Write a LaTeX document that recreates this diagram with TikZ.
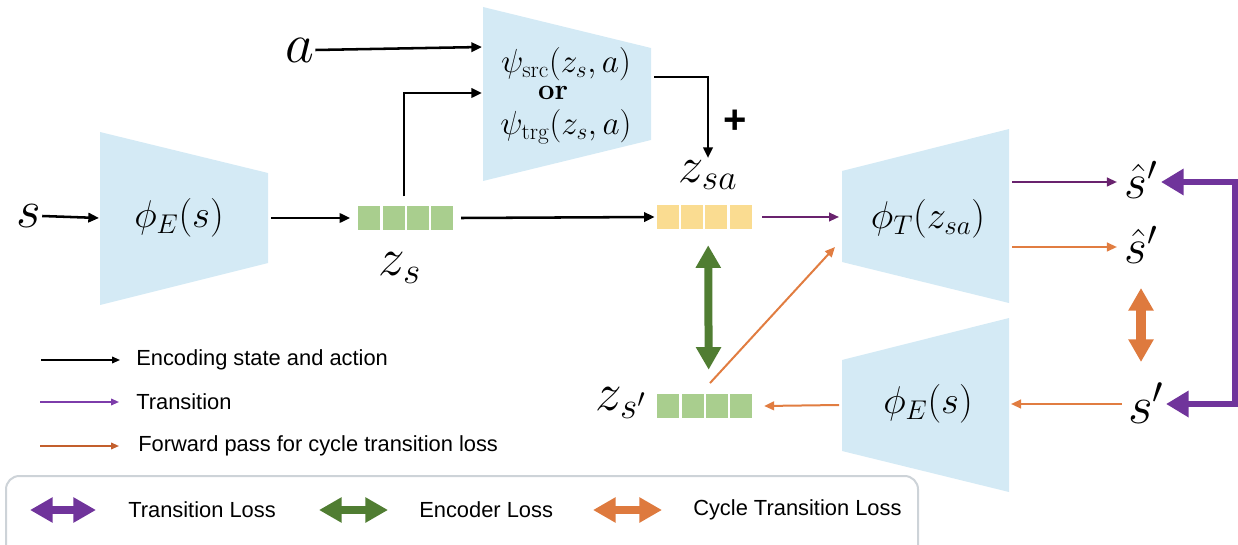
\RequirePackage{fix-cm}
\documentclass[tikz,border=0pt]{standalone}
\usepackage{fontspec}
\newfontfamily\legfont{Liberation Sans}
\usetikzlibrary{arrows.meta,calc}
\newcommand\setfs[1]{\fontsize{#1}{#1}\selectfont}
\definecolor{trapblue}{RGB}{212,234,245}
\definecolor{vgreen}{RGB}{169,206,142}
\definecolor{vyellow}{RGB}{250,220,145}
\definecolor{tpurple}{RGB}{105,35,110}
\definecolor{torange}{RGB}{225,125,65}
\definecolor{lpurple}{RGB}{125,60,170}
\definecolor{lorange}{RGB}{195,95,45}
\definecolor{bpurple}{RGB}{112,52,155}
\definecolor{bgreen}{RGB}{80,125,50}
\definecolor{borange}{RGB}{222,122,62}
\definecolor{boxgray}{RGB}{205,211,216}
\begin{document}
\begin{tikzpicture}[x=0.75pt,y=-0.75pt,
  trap/.style={fill=trapblue,draw=none},
  vecbox/.style={minimum width=72.75pt,minimum height=18pt,inner sep=0pt,draw=none},
  lbl/.style={inner sep=0.5pt},
  blk/.style={line width=1.9pt,-{Triangle[length=8pt,width=7pt]}},
  purl/.style={line width=1.5pt,-{Triangle[length=7.5pt,width=6.5pt]},draw=tpurple},
  orl/.style={line width=1.5pt,-{Triangle[length=7.5pt,width=6.5pt]},draw=torange},
  legl/.style={line width=1.2pt,-{Triangle[length=6pt,width=5pt]}},
  dbl/.style={line width=6pt,{Triangle[length=17pt,width=18pt]}-{Triangle[length=17pt,width=18pt]}},
  brk/.style={line width=4.5pt,line join=miter,{Triangle[length=17pt,width=19pt]}-{Triangle[length=17pt,width=19pt]}},
  legtxt/.style={anchor=west,inner sep=0pt,font=\legfont\setfs{16.4}}
]
\useasboundingbox (0,0) rectangle (1238,545);
\clip (0,0) rectangle (1238,545);

% trapezoids
\fill[trap] (100,132) -- (268,173) -- (268,263) -- (100,305) -- cycle;
\fill[trap] (483,7) -- (651,48) -- (651,140) -- (483,181) -- cycle;
\fill[trap] (842,171) -- (1009,129) -- (1009,303) -- (842,262) -- cycle;
\fill[trap] (842,360) -- (1009,318) -- (1009,492) -- (842,451) -- cycle;

\coordinate (E1in) at (99,218);
\coordinate (E1out) at (271,218);
\coordinate (P2in1) at (482,47);
\coordinate (P2in2) at (482,93);
\coordinate (P2out) at (654,77);
\coordinate (T3in) at (839,217);
\coordinate (T3o1) at (1012,182);
\coordinate (T3o2) at (1012,247);
\coordinate (T3in2) at (835,247);
\coordinate (E4in) at (1011,404);
\coordinate (E4out) at (839,405);

% vectors
\node[vecbox] (zs) at (407,218) {};
\node[vecbox] (zsa) at (705.5,217) {};
\node[vecbox] (zsp) at (706,406) {};
\foreach \i in {0,...,3}{
  \fill[vgreen] ($(zs.west)+(\i*24.3,-12)$) rectangle ++(22,24);
  \fill[vyellow] ($(zsa.west)+(\i*24.3,-12)$) rectangle ++(22,24);
  \fill[vgreen] ($(zsp.west)+(\i*24.3,-12)$) rectangle ++(22,24);
}

% labels
\node[lbl] (s) at (29,216) {\setfs{40}$s$};
\node[lbl] (a) at (300,50) {\setfs{42}$a$};
\node[lbl] (phiE1) at (179,218) {\setfs{29}$\phi_E(s)$};
\node[lbl] (zslbl) at (400,268) {\setfs{40}$z_s$};
\node[lbl] (psisrc) at (566,64) {\setfs{25}$\psi_{\mathrm{src}}(z_s,a)$};
\node[lbl] (orlbl) at (553,93) {\setfs{22}\textbf{or}};
\node[lbl] (psitrg) at (566,127) {\setfs{25}$\psi_{\mathrm{trg}}(z_s,a)$};
\node[lbl] (plus) at (735,122) {\legfont\bfseries\setfs{30}+};
\node[lbl] (zsalbl) at (708,175) {\setfs{38}$z_{sa}$};
\node[lbl] (phiT) at (928,219) {\setfs{29}$\phi_T(z_{sa})$};
\node[lbl] (sh1) at (1141,180) {\setfs{37}$\hat{s}'$};
\node[lbl] (sh2) at (1141,245) {\setfs{37}$\hat{s}'$};
\node[lbl] (phiE2) at (928,404) {\setfs{29}$\phi_E(s)$};
\node[lbl] (sp) at (1146,403) {\setfs{40}$s'$};
\node[lbl] (zsplbl) at (621,403) {\setfs{40}$z_{s'}$};

% black connectors
\draw[blk] (s.east) -- (E1in);
\draw[blk] (E1out) -- ([xshift=-6pt]zs.west);
\draw[blk] (a.east) -- (P2in1);
\draw[blk] ([xshift=-2.25pt,yshift=7pt]zs.north) |- (P2in2);
\draw[blk] (P2out) -| ([yshift=1pt]zsalbl.north);
\draw[blk] ([xshift=4pt]zs.east) -- ([xshift=-1.5pt]zsa.west);

% purple transitions
\draw[purl] ([xshift=6pt]zsa.east) -- (T3in);
\draw[purl] (T3o1) -- ([xshift=-5pt]sh1.west |- T3o1);

% orange forward pass
\draw[orl] (T3o2) -- ([xshift=-5pt]sh2.west |- T3o2);
\draw[orl] ([xshift=-4pt]sp.west |- E4in) -- (E4in);
\draw[orl] (E4out) -- ([xshift=7pt]zsp.east);
\draw[orl] ([xshift=3pt,yshift=8pt]zsp.north) -- (T3in2);

% loss arrows
\coordinate (ob1) at (1137,288);
\coordinate (ob2) at (1137,362);
\draw[dbl,draw=bgreen] ([xshift=2pt,yshift=-12pt]zsa.south) -- ([xshift=2pt,yshift=18pt]zsp.north);
\draw[dbl,draw=borange,line width=7pt] (ob1 -| sh2.south) -- (ob2 -| sh2.south);
\coordinate (br1) at (1235,182);
\coordinate (br2) at (1235,404);
\draw[brk,draw=bpurple] ([xshift=2pt]sh1.east |- br1) -- (br1) -- (br2) -- ([xshift=1pt]sp.east |- br2);

% legend
\coordinate (l1a) at (41,360); \coordinate (l1b) at (120,360);
\coordinate (l2a) at (40,402); \coordinate (l2b) at (119,402);
\coordinate (l3a) at (40,446); \coordinate (l3b) at (119,446);
\draw[legl,draw=black] (l1a) -- (l1b);
\draw[legl,draw=lpurple] (l2a) -- (l2b);
\draw[legl,draw=lorange] (l3a) -- (l3b);
\node[legtxt] (t1) at (136,360) {Encoding state and action};
\node[legtxt] (t2) at (136,402) {Transition};
\node[legtxt] (t3) at (138,446) {Forward pass for cycle transition loss};

\draw[boxgray,line width=1.5pt,rounded corners=10pt] (6,476) rectangle (918,575);
\coordinate (d1a) at (30,510); \coordinate (d1b) at (96,510);
\coordinate (d2a) at (319,510); \coordinate (d2b) at (388,510);
\coordinate (d3a) at (593,510); \coordinate (d3b) at (662,510);
\draw[dbl,draw=bpurple] (d1a) -- (d1b);
\draw[dbl,draw=bgreen] (d2a) -- (d2b);
\draw[dbl,draw=borange] (d3a) -- (d3b);
\node[legtxt] (t4) at (128,510) {Transition Loss};
\node[legtxt] (t5) at (419,510) {Encoder Loss};
\node[legtxt] (t6) at (693,510) {Cycle Transition Loss};
\end{tikzpicture}
\end{document}
